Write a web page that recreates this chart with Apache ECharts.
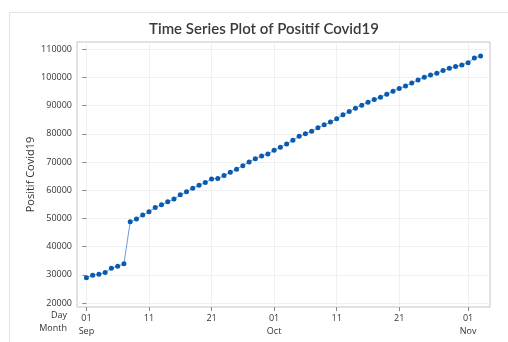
<!DOCTYPE html>
<html>
<head>
<meta charset="utf-8">
<script src="https://cdn.jsdelivr.net/npm/echarts@6/dist/echarts.min.js"></script>
<style>
  html, body { margin: 0; padding: 0; background: #fff; }
  #chart { width: 508px; height: 342px; }
</style>
</head>
<body>
<div id="chart"></div>
<script>
// daily cumulative positives, 01 Sep .. 03 Nov
var positif = [
  28940, 29860, 30210, 30810, 32330, 33040, 33890,
  48800, 49790, 51200, 52370, 53890, 54840, 55900, 56860, 58380, 59440,
  60750, 61800, 62730, 64030, 64140, 65200, 66400, 67460, 68730, 70040,
  71210, 72160, 72870,
  74170, 75230, 76400, 77710, 79120, 80040, 80890, 82160, 83220, 84180,
  85340, 86760, 87960, 89120, 90180, 91240, 92200, 93010, 94070, 95130,
  96090, 97000, 98060, 99120, 100080, 100890, 101490, 102450, 103260, 103860,
  104430,
  105270, 106900, 107600
];
// x ticks (day index from 01 Sep)
var xTickPos = [0, 10, 20, 30, 40, 50, 61];
var dayLabels = ['01', '11', '21', '01', '11', '21', '01'];
var monthLabels = ['Sep', '', '', 'Oct', '', '', 'Nov'];
var yTicks = [20000, 30000, 40000, 50000, 60000, 70000, 80000, 90000, 100000, 110000];

var myChart = echarts.init(document.getElementById('chart'));

var seriesData = [];
for (var i = 0; i < positif.length; i++) {
  seriesData.push([i, positif[i]]);
}

var font = 'Open Sans';
var option = {
  backgroundColor: '#fff',
  animation: false,
  title: {
    text: 'Time Series Plot of Positif Covid19',
    left: 259,
    textAlign: 'center',
    top: 17,
    textStyle: { fontFamily: 'Lato', fontSize: 15, fontWeight: 600, color: '#3a3a3a' }
  },
  graphic: [
    {
      type: 'rect', left: 7, top: 10,
      shape: { width: 560, height: 400 },
      style: { fill: null, stroke: '#e3e3e3', lineWidth: 1 }
    },
    {
      type: 'text', right: 441, top: 311,
      style: { text: 'Day', fill: '#333', font: '9px "Open Sans"', textAlign: 'right' }
    },
    {
      type: 'text', right: 441, top: 324,
      style: { text: 'Month', fill: '#333', font: '9px "Open Sans"', textAlign: 'right' }
    }
  ],
  grid: {
    left: 77, top: 42, right: 18, bottom: 35,
    show: true, borderColor: '#c4c4c4', borderWidth: 1, backgroundColor: '#fff'
  },
  xAxis: {
    type: 'value',
    min: -1.5,
    max: 64.5,
    axisLine: { show: false },
    axisTick: { show: true, length: 4, lineStyle: { color: '#888' }, customValues: xTickPos },
    splitLine: { show: true, lineStyle: { color: '#f0f0f0', width: 1 } },
    axisLabel: {
      customValues: xTickPos,
      fontFamily: font, fontSize: 9, color: '#333', lineHeight: 13, margin: 5,
      formatter: function (v) {
        var k = xTickPos.indexOf(v);
        if (k < 0) return '';
        return monthLabels[k] ? dayLabels[k] + '\n' + monthLabels[k] : dayLabels[k];
      }
    }
  },
  yAxis: {
    type: 'value',
    min: 18580,
    max: 112590,
    name: 'Positif Covid19',
    nameLocation: 'middle',
    nameGap: 41,
    nameRotate: 90,
    nameMoveOverlap: false,
    nameTextStyle: { fontFamily: font, fontSize: 11, color: '#333' },
    axisLine: { show: false },
    axisTick: { show: true, length: 4, lineStyle: { color: '#888' }, customValues: yTicks },
    splitLine: { show: true, lineStyle: { color: '#f0f0f0', width: 1 } },
    axisLabel: {
      customValues: yTicks,
      fontFamily: font, fontSize: 9, color: '#333', margin: 5,
      formatter: function (v) { return String(v); }
    }
  },
  series: [{
    name: 'Positif Covid19',
    type: 'line',
    data: seriesData,
    symbol: 'circle',
    symbolSize: 5,
    itemStyle: { color: '#0a5bb0' },
    lineStyle: { color: '#6b9bd6', width: 1 }
  }]
};
myChart.setOption(option);
</script>
</body>
</html>
